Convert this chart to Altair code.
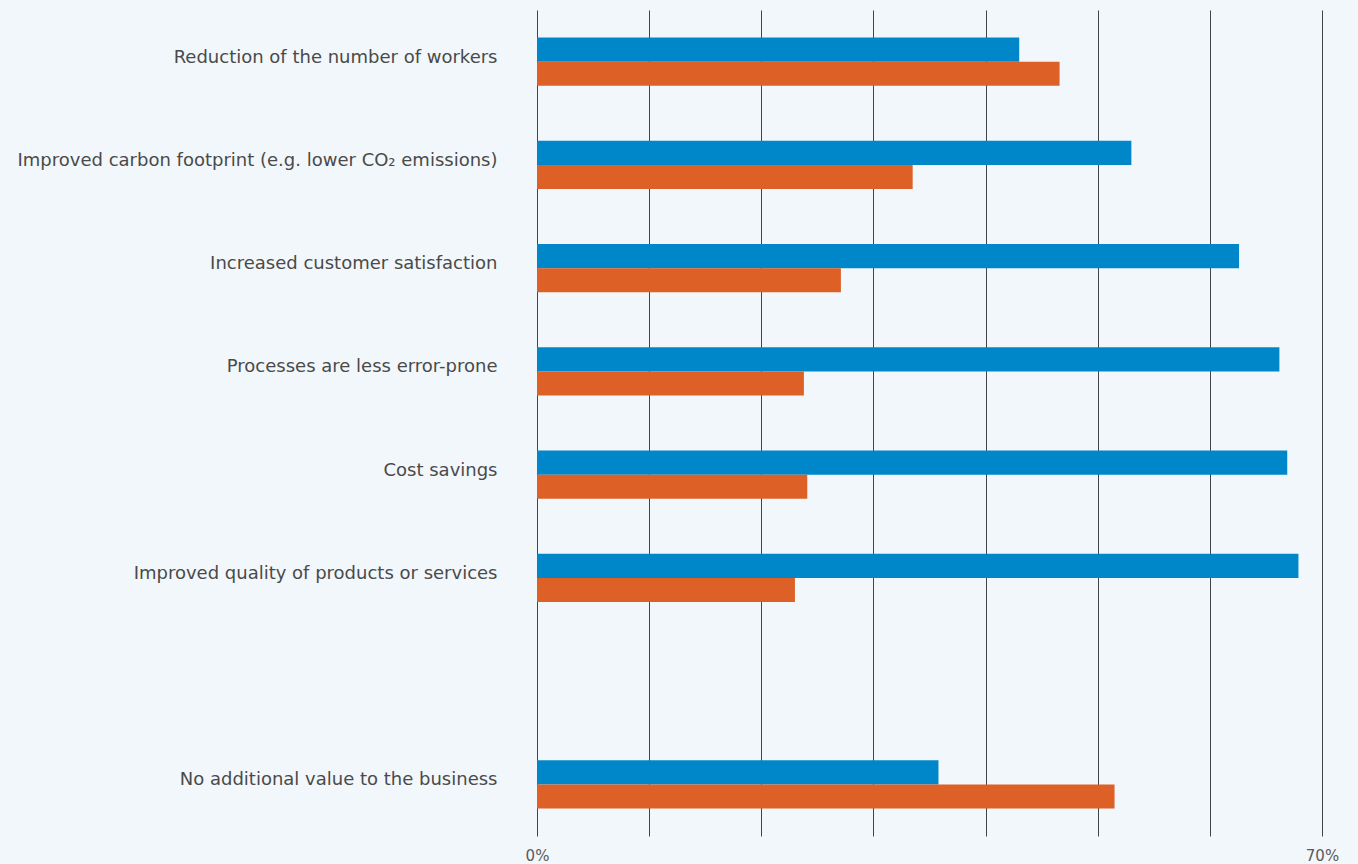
import altair as alt
import pandas as pd

categories = [
    "Reduction of the number of workers",
    "Improved carbon footprint (e.g. lower CO₂ emissions)",
    "Increased customer satisfaction",
    "Processes are less error-prone",
    "Cost savings",
    "Improved quality of products or services",
    "No additional value to the business",
]
series_a = [43.0, 53.0, 62.6, 66.2, 66.9, 67.9, 35.8]
series_b = [46.6, 33.5, 27.1, 23.8, 24.1, 23.0, 51.5]
series_names = ["Series A", "Series B"]
x_ticks = [0, 10, 20, 30, 40, 50, 60, 70]

rows = []
for c, a, b in zip(categories, series_a, series_b):
    rows.append({"category": c, "series": series_names[0], "value": a})
    rows.append({"category": c, "series": series_names[1], "value": b})
df = pd.DataFrame(rows)

y_domain = categories[:6] + [" "] + categories[6:]

chart = alt.Chart(df).mark_bar().encode(
    y=alt.Y(
        "category:N",
        scale=alt.Scale(domain=y_domain, paddingInner=0.535, paddingOuter=0.2675),
        axis=alt.Axis(
            title=None, ticks=False, domain=False, labelPadding=40,
            labelFontSize=18, labelColor="#4a4a4a", labelFont="DejaVu Sans",
            labelFontWeight="normal", labelLimit=600, labelOffset=-4,
        ),
    ),
    yOffset=alt.YOffset("series:N", scale=alt.Scale(domain=series_names, paddingInner=0, paddingOuter=0)),
    x=alt.X(
        "value:Q",
        scale=alt.Scale(domain=[0, 70], nice=False),
        axis=alt.Axis(
            title=None, values=x_ticks, ticks=False, domain=False,
            grid=True, gridColor="#3f4548", gridWidth=1, gridOpacity=1,
            labelExpr="datum.value == 0 || datum.value == 70 ? datum.value + '%' : ''",
            labelFontSize=15, labelColor="#5a5a5a", labelFont="DejaVu Sans",
            labelPadding=12, labelFlush=False,
        ),
    ),
    color=alt.Color(
        "series:N",
        scale=alt.Scale(domain=series_names, range=["#0087c9", "#dd6027"]),
        legend=None,
    ),
).properties(
    width=785,
    height=826,
    background="#f2f7fb",
    padding={"left": 537, "top": 10, "right": 36, "bottom": 28},
    autosize=alt.AutoSizeParams(type="none"),
).configure_view(strokeWidth=0)

chart.save("out.html", embed_options={"renderer": "svg", "actions": False})
